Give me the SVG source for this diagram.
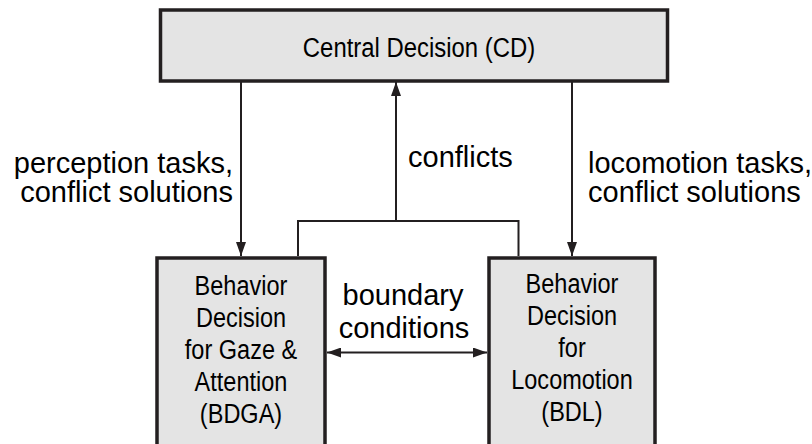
<svg xmlns="http://www.w3.org/2000/svg" width="812" height="444" viewBox="0 0 812 444">
<style>
.box{fill:#e4e4e4;stroke:#231f20;stroke-width:3.5}
.ln{fill:none;stroke:#231f20;stroke-width:2}
.t{font-family:"Liberation Sans",Arial,sans-serif;fill:#000}
.lbl{font-size:29px}
.bx{font-size:28px;text-anchor:middle}
</style>
<defs>
<marker id="ah" viewBox="0 0 14 10" refX="14" refY="5" markerWidth="14" markerHeight="10" markerUnits="userSpaceOnUse" orient="auto-start-reverse">
<path d="M0,0 L14,5 L0,10 Z" fill="#231f20"/>
</marker>
</defs>
<rect width="812" height="444" fill="#fff"/>
<g id="cd">
<rect class="box" x="160.5" y="10" width="507" height="71"/>
<text class="t" x="0" y="57" font-size="27" text-anchor="middle" transform="translate(419,0) scale(0.885,1)">Central Decision (CD)</text>
</g>
<g id="bdga">
<rect class="box" x="157" y="258" width="168" height="200"/>
<g transform="translate(241,0) scale(0.84,1)">
<text class="t bx" x="0" y="295">Behavior</text>
<text class="t bx" x="0" y="327">Decision</text>
<text class="t bx" x="0" y="359">for Gaze &amp;</text>
<text class="t bx" x="0" y="391">Attention</text>
<text class="t bx" x="0" y="423">(BDGA)</text>
</g>
</g>
<g id="bdl">
<rect class="box" x="489" y="258" width="166" height="200"/>
<g transform="translate(572,0) scale(0.84,1)">
<text class="t bx" x="0" y="293">Behavior</text>
<text class="t bx" x="0" y="325">Decision</text>
<text class="t bx" x="0" y="357">for</text>
<text class="t bx" x="0" y="389">Locomotion</text>
<text class="t bx" x="0" y="421">(BDL)</text>
</g>
</g>
<g id="connectors">
<line class="ln" x1="241" y1="82" x2="241" y2="256" marker-end="url(#ah)"/>
<line class="ln" x1="572" y1="82" x2="572" y2="256" marker-end="url(#ah)"/>
<polyline class="ln" points="298,256 298,221 518.5,221 518.5,256"/>
<line class="ln" x1="396" y1="221" x2="396" y2="82" marker-end="url(#ah)"/>
<line class="ln" x1="327" y1="352.5" x2="487" y2="352.5" marker-start="url(#ah)" marker-end="url(#ah)"/>
</g>
<g id="labels">
<text class="t lbl" x="233" y="173" text-anchor="end">perception tasks,</text>
<text class="t lbl" x="233" y="202" text-anchor="end">conflict solutions</text>
<text class="t lbl" x="408" y="167">conflicts</text>
<text class="t lbl" x="588" y="173">locomotion tasks,</text>
<text class="t lbl" x="588" y="202">conflict solutions</text>
<text class="t lbl" x="403" y="305" text-anchor="middle">boundary</text>
<text class="t lbl" x="404" y="338" text-anchor="middle">conditions</text>
</g>
</svg>
